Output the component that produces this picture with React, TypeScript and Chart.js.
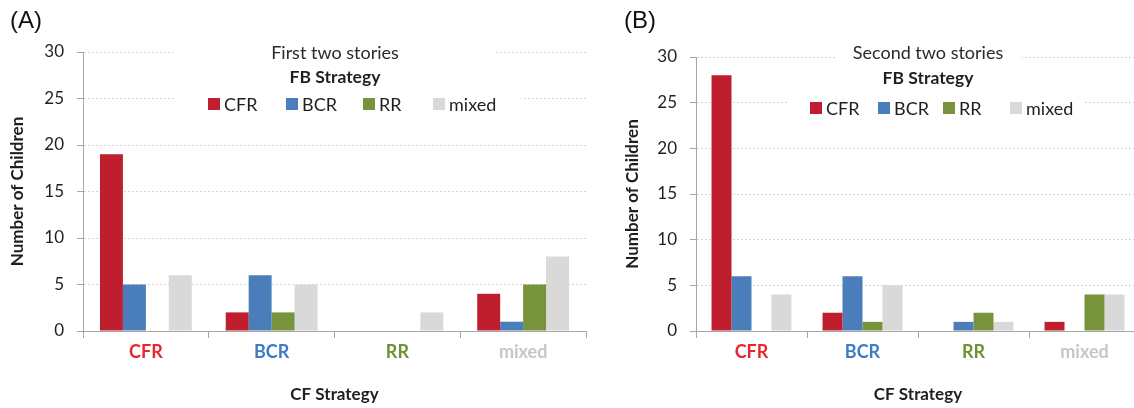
import React, { useEffect, useRef } from "react";
import { Chart, registerables } from "chart.js";

Chart.register(...registerables);

// ---------- data ----------
const categories = ["CFR", "BCR", "RR", "mixed"];
const seriesNames = ["CFR", "BCR", "RR", "mixed"];

const firstCFR = [19, 2, 0, 4];
const firstBCR = [5, 6, 0, 1];
const firstRR = [0, 2, 0, 5];
const firstMixed = [6, 5, 2, 8];

const secondCFR = [28, 2, 0, 1];
const secondBCR = [6, 6, 1, 0];
const secondRR = [0, 1, 2, 4];
const secondMixed = [4, 5, 1, 4];

const yMin = 0;
const yMax = 30;
const yStep = 5;

// ---------- styles ----------
const FONT = 'Lato, "Open Sans", "Liberation Sans", sans-serif';
const seriesColors = ["#be1e2d", "#4a7ebb", "#77933c", "#d9d9d9"];
const categoryLabelColors = ["#e8262c", "#3b7cc8", "#6f9134", "#c6c6c6"];
const AXIS_GRAY = "#a6a6a6";
const GRID_GRAY = "#d4d4d4";
const TEXT_DARK = "#1f1f1f";

type PanelSpec = {
  canvasLeft: number;
  canvasWidth: number;
  padTop: number;
  padRight: number;
  yAxisWidth: number;
  yTitlePad: number;
  catPct: number;
  title: string;
  titleCenter: number;
  titleY: number;
  subtitleY: number;
  legendY: number;
  legendSquares: number[];
  titleBox: [number, number, number, number];
  legendBox: [number, number, number, number];
  series: number[][];
};

const panels: PanelSpec[] = [
  {
    canvasLeft: 0,
    canvasWidth: 590,
    padTop: 52,
    padRight: 4,
    yAxisWidth: 83,
    yTitlePad: 7,
    catPct: 0.73,
    title: "First two stories",
    titleCenter: 335,
    titleY: 53,
    subtitleY: 77,
    legendY: 104,
    legendSquares: [208, 286, 363, 433],
    titleBox: [173, 42, 495, 64],
    legendBox: [176, 88, 521, 118],
    series: [firstCFR, firstBCR, firstRR, firstMixed],
  },
  {
    canvasLeft: 570,
    canvasWidth: 580,
    padTop: 57,
    padRight: 10,
    yAxisWidth: 126,
    yTitlePad: 52,
    catPct: 0.72,
    title: "Second two stories",
    titleCenter: 358,
    titleY: 53,
    subtitleY: 78,
    legendY: 108,
    legendSquares: [240, 308, 373, 440],
    titleBox: [266, 42, 452, 66],
    legendBox: [218, 92, 513, 122],
    series: [secondCFR, secondBCR, secondRR, secondMixed],
  },
];

function Panel({ spec }: { spec: PanelSpec }) {
  const ref = useRef<HTMLCanvasElement | null>(null);

  useEffect(() => {
    if (!ref.current) return;
    const decor = {
      id: "panelDecor",
      afterDraw(chart: any) {
        const ctx = chart.ctx as CanvasRenderingContext2D;
        ctx.save();
        ctx.fillStyle = "#ffffff";
        const [a, b, c, d] = spec.titleBox;
        ctx.fillRect(a, b, c - a, d - b);
        const [e, f, g, h] = spec.legendBox;
        ctx.fillRect(e, f, g - e, h - f);

        ctx.textAlign = "center";
        ctx.textBaseline = "middle";
        ctx.fillStyle = "#2a2a2a";
        ctx.font = `18px ${FONT}`;
        ctx.fillText(spec.title, spec.titleCenter, spec.titleY);
        ctx.fillStyle = TEXT_DARK;
        ctx.font = `bold 17.5px ${FONT}`;
        ctx.fillText("FB Strategy", spec.titleCenter, spec.subtitleY);

        ctx.textAlign = "left";
        ctx.font = `18px ${FONT}`;
        seriesNames.forEach((name, i) => {
          const x = spec.legendSquares[i];
          ctx.fillStyle = seriesColors[i];
          ctx.fillRect(x, spec.legendY - 6, 12, 12);
          ctx.fillStyle = TEXT_DARK;
          ctx.fillText(name, x + 16, spec.legendY + 1);
        });
        ctx.restore();
      },
    };

    const chart = new Chart(ref.current, {
      type: "bar",
      data: {
        labels: categories,
        datasets: seriesNames.map((name, i) => ({
          label: name,
          data: spec.series[i],
          backgroundColor: seriesColors[i],
          borderWidth: 0,
          barPercentage: 1.0,
          categoryPercentage: spec.catPct,
        })),
      },
      options: {
        responsive: false,
        animation: false,
        layout: {
          padding: { left: 0, top: spec.padTop, right: spec.padRight, bottom: 0 },
        },
        plugins: {
          legend: { display: false },
          title: { display: false },
          tooltip: { enabled: false },
        },
        scales: {
          x: {
            grid: {
              display: true,
              offset: true,
              drawOnChartArea: false,
              drawTicks: true,
              tickLength: 7,
              tickColor: AXIS_GRAY,
            },
            border: { display: true, color: AXIS_GRAY, width: 1 },
            ticks: {
              color: (c: any) => categoryLabelColors[c.index] ?? TEXT_DARK,
              font: { family: FONT, size: 18, weight: "bold" },
              padding: 3,
              maxRotation: 0,
            },
            title: {
              display: true,
              text: "CF Strategy",
              color: TEXT_DARK,
              font: { family: FONT, size: 17, weight: "bold" },
              padding: { top: 0, bottom: 3 },
            },
            afterFit: (scale: any) => {
              scale.height = 408 - 331;
            },
          },
          y: {
            min: yMin,
            max: yMax,
            grid: {
              color: GRID_GRAY,
              lineWidth: 1,
              drawTicks: true,
              tickLength: 6,
              tickColor: AXIS_GRAY,
            },
            border: { display: true, color: AXIS_GRAY, width: 1, dash: [2, 2] },
            ticks: {
              stepSize: yStep,
              color: TEXT_DARK,
              font: { family: FONT, size: 17 },
              padding: 13,
            },
            title: {
              display: true,
              text: "Number of Children",
              color: TEXT_DARK,
              font: { family: FONT, size: 17, weight: "bold" },
              padding: { top: spec.yTitlePad, bottom: 0 },
            },
            afterFit: (scale: any) => {
              scale.width = spec.yAxisWidth;
            },
          },
        },
      } as any,
      plugins: [decor],
    });
    return () => chart.destroy();
  }, [spec]);

  return (
    <canvas
      ref={ref}
      width={spec.canvasWidth}
      height={408}
      style={{
        position: "absolute",
        left: spec.canvasLeft,
        top: 0,
        width: spec.canvasWidth,
        height: 408,
      }}
    />
  );
}

export default function App() {
  return (
    <div
      style={{
        position: "fixed",
        left: 0,
        top: 0,
        width: 1134,
        height: 408,
        overflow: "hidden",
        background: "#ffffff",
      }}
    >
      <Panel spec={panels[0]} />
      <Panel spec={panels[1]} />
      <div
        style={{
          position: "absolute",
          left: 10,
          top: 8,
          font: '24px "Liberation Sans", Arial, sans-serif',
          lineHeight: "24px",
          color: "#111",
        }}
      >
        (A)
      </div>
      <div
        style={{
          position: "absolute",
          left: 624,
          top: 8,
          font: '24px "Liberation Sans", Arial, sans-serif',
          lineHeight: "24px",
          color: "#111",
        }}
      >
        (B)
      </div>
    </div>
  );
}
